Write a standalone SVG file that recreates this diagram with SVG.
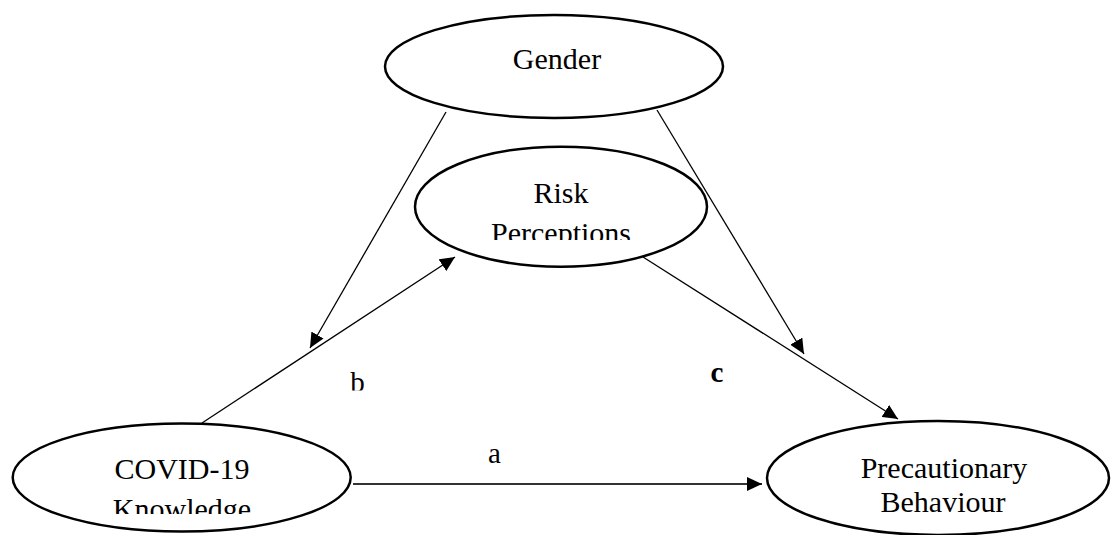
<svg xmlns="http://www.w3.org/2000/svg" width="1111" height="535" viewBox="0 0 1111 535">
<style>
.node{fill:#fff;stroke:#000;stroke-width:2.5}
.t{font-size:30px;fill:#000;text-anchor:middle}
.lbl{font-size:29px;fill:#000;text-anchor:middle}
.edge{stroke:#000;stroke-width:1.3;fill:none}
.edgeh{stroke:#333;stroke-width:1.8;fill:none}
</style>
<defs>
<marker id="ah" markerUnits="userSpaceOnUse" markerWidth="16" markerHeight="14" refX="15" refY="7" orient="auto">
<path d="M0,0 L15,7 L0,14 z" fill="#000"/>
</marker>
<clipPath id="cpRisk"><rect x="0" y="0" width="1111" height="240"/></clipPath>
<clipPath id="cpCovid"><rect x="0" y="0" width="1111" height="514"/></clipPath>
<clipPath id="cpB"><rect x="0" y="0" width="1111" height="390.5"/></clipPath>
</defs>
<g id="connectors">
<line class="edge" x1="446" y1="112" x2="310" y2="348" marker-end="url(#ah)"/>
<line class="edge" x1="202" y1="423" x2="455" y2="257" marker-end="url(#ah)"/>
<line class="edge" x1="657" y1="110" x2="804" y2="354" marker-end="url(#ah)"/>
<line class="edge" x1="643" y1="257" x2="898" y2="419" marker-end="url(#ah)"/>
<line class="edgeh" x1="353" y1="484" x2="762" y2="484" marker-end="url(#ah)"/>
</g>
<g font-family="Liberation Serif, serif">
<g id="gender">
<ellipse class="node" cx="554" cy="66.5" rx="169" ry="51.5"/>
<text class="t" x="557" y="69">Gender</text>
</g>
<g id="risk">
<ellipse class="node" cx="561" cy="206.7" rx="146" ry="60"/>
<g clip-path="url(#cpRisk)">
<text class="t" x="561" y="202.5">Risk</text>
<text class="t" x="561" y="242.5">Perceptions</text>
</g>
</g>
<g id="covid">
<ellipse class="node" cx="181.7" cy="477.5" rx="169" ry="54"/>
<g clip-path="url(#cpCovid)">
<text class="t" x="182" y="479">COVID-19</text>
<text class="t" x="182" y="518.5">Knowledge</text>
</g>
</g>
<g id="precautionary">
<ellipse class="node" cx="938" cy="478" rx="171" ry="57"/>
<text class="t" x="944" y="477.5">Precautionary</text>
<text class="t" x="943" y="511.5">Behaviour</text>
</g>
<g id="labels">
<text class="lbl" x="494.5" y="463.3">a</text>
<g clip-path="url(#cpB)"><text class="lbl" x="357.5" y="392">b</text></g>
<text class="lbl" x="717" y="381.5" font-weight="bold">c</text>
</g>
</g>
</svg>
